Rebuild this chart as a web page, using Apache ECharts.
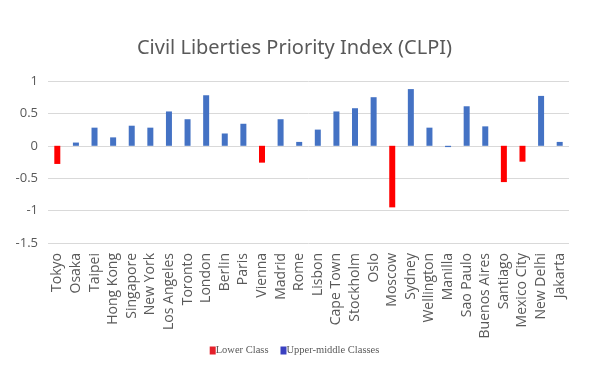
<!DOCTYPE html>
<html>
<head>
<meta charset="utf-8">
<script src="https://cdn.jsdelivr.net/npm/echarts@6/dist/echarts.min.js"></script>
<style>
html, body { margin: 0; padding: 0; background: #fff; }
#chart { width: 589px; height: 376px; }
</style>
</head>
<body>
<div id="chart"></div>
<script>
var cities = ['Tokyo', 'Osaka', 'Taipei', 'Hong Kong', 'Singapore', 'New York', 'Los Angeles', 'Toronto', 'London', 'Berlin',
	'Paris', 'Vienna', 'Madrid', 'Rome', 'Lisbon', 'Cape Town', 'Stockholm', 'Oslo', 'Moscow', 'Sydney',
	'Wellington', 'Manilla', 'Sao Paulo', 'Buenos Aires', 'Santiago', 'Mexico City', 'New Delhi', 'Jakarta'];
// each city has one value, in one of the two series
var lowerClass = [-0.28, null, null, null, null, null, null, null, null, null,
	null, -0.26, null, null, null, null, null, null, -0.95, null,
	null, null, null, null, -0.56, -0.245, null, null];
var upperMiddle = [null, 0.05, 0.28, 0.13, 0.31, 0.28, 0.53, 0.41, 0.78, 0.19,
	0.34, null, 0.41, 0.06, 0.25, 0.53, 0.58, 0.75, null, 0.875,
	0.28, -0.02, 0.61, 0.30, null, null, 0.77, 0.06];
var yTicks = { min: -1.5, max: 1, interval: 0.5 };

var myChart = echarts.init(document.getElementById('chart'));
var option = {
	animation: false,
	title: {
		text: 'Civil Liberties Priority Index (CLPI)',
		left: 'center',
		top: 33,
		textStyle: {
			fontFamily: 'Noto Sans',
			fontSize: 20,
			fontWeight: 'normal',
			color: '#595959'
		}
	},
	legend: {
		bottom: 15,
		left: 'center',
		itemWidth: 6,
		itemHeight: 8,
		itemGap: 12,
		icon: 'rect',
		textStyle: {
			fontFamily: 'Liberation Serif',
			fontSize: 10.5,
			color: '#595959',
			padding: [0, 0, 0, -5]
		},
		data: [
			{ name: 'Lower Class', itemStyle: { color: '#e4202a' } },
			{ name: 'Upper-middle Classes', itemStyle: { color: '#3a40c0' } }
		]
	},
	grid: {
		left: 48,
		right: 20,
		top: 81,
		bottom: 133,
		containLabel: false
	},
	xAxis: {
		type: 'category',
		data: cities,
		axisLine: { show: false },
		axisTick: { show: false },
		axisLabel: {
			rotate: 90,
			interval: 0,
			margin: 10,
			fontFamily: 'Open Sans',
			fontSize: 14,
			color: '#595959'
		}
	},
	yAxis: {
		type: 'value',
		min: yTicks.min,
		max: yTicks.max,
		interval: yTicks.interval,
		axisLine: { show: false },
		axisTick: { show: false },
		axisLabel: {
			margin: 10,
			fontFamily: 'Open Sans',
			fontSize: 13,
			color: '#595959'
		},
		splitLine: { lineStyle: { color: '#d9d9d9', width: 1 } }
	},
	series: [
		{
			name: 'Lower Class',
			type: 'bar',
			data: lowerClass,
			barWidth: 6,
			barGap: '-100%',
			itemStyle: { color: '#ff0000' }
		},
		{
			name: 'Upper-middle Classes',
			type: 'bar',
			data: upperMiddle,
			barWidth: 6,
			itemStyle: { color: '#4472c4' }
		}
	]
};
myChart.setOption(option);
</script>
</body>
</html>
